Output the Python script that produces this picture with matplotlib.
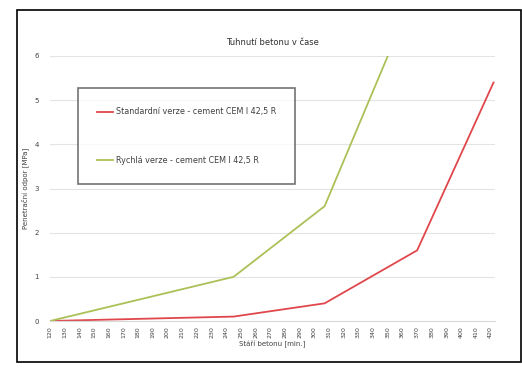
import numpy as np
import matplotlib.pyplot as plt
from matplotlib.patches import Rectangle

# setting of concrete over time - penetration resistance
x_ticks = list(range(120, 430, 10))
std_time = [120, 245, 307, 370, 422]
std_val = [0.0, 0.1, 0.4, 1.6, 5.4]
fast_time = [120, 245, 307, 350]
fast_val = [0.0, 1.0, 2.6, 6.0]
std_label = 'Standardní verze - cement CEM I 42,5 R'
fast_label = 'Rychlá verze - cement CEM I 42,5 R'

fig = plt.figure(figsize=(5.22, 3.69), dpi=100)
ax = fig.add_axes([50/522, 1 - 321/369, 445/522, 265/369])

ax.plot(std_time, std_val, color='#e0474c', lw=1.3, label=std_label)
ax.plot(fast_time, fast_val, color='#abc157', lw=1.3, label=fast_label)

ax.set_xlim(120, 423)
ax.set_ylim(0, 6)
ax.set_xticks(x_ticks)
ax.set_xticklabels([str(t) for t in x_ticks], rotation=90, fontsize=4.5, color='#404040')
ax.set_yticks(range(0, 7))
ax.tick_params(axis='y', labelsize=5, colors='#404040', length=0, pad=8)
ax.tick_params(axis='x', length=0, pad=4)
ax.grid(axis='y', color='#e4e4e4', lw=0.8)
ax.set_axisbelow(True)
for s in ['top', 'right', 'left']:
    ax.spines[s].set_visible(False)
ax.spines['bottom'].set_color('#d9d9d9')

ax.set_title('Tuhnutí betonu v čase', fontsize=6, color='#303030', pad=8)
ax.set_xlabel('Stáří betonu [min.]', fontsize=5, color='#404040', labelpad=2)
ax.set_ylabel('Penetrační odpor [MPa]', fontsize=5, color='#404040', labelpad=4)

leg = fig.legend(loc='upper left', bbox_to_anchor=(78/522, 1 - 88/369), fontsize=5.8,
                 frameon=True, fancybox=False, labelspacing=4.9, borderpad=2.4,
                 handlelength=1.9, handletextpad=0.4, borderaxespad=0)
leg.get_frame().set_edgecolor('#505050')
leg.get_frame().set_linewidth(1.2)
for t in leg.get_texts():
    t.set_color('#404040')

# outer frame of the chart
fig.patches.append(Rectangle((17/522, 1 - 362/369), 504/522, 352/369, transform=fig.transFigure,
                             fill=False, edgecolor='black', lw=1.2))

plt.savefig('out.png', dpi=100)
